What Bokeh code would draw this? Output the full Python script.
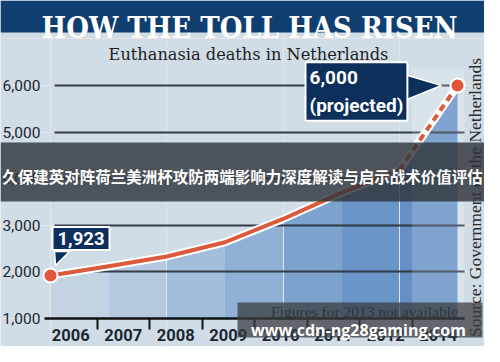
import math
from bokeh.plotting import figure
from bokeh.models import (Range1d, LinearAxis, FixedTicker, NumeralTickFormatter,
                          Label, BoxAnnotation, Grid)
from bokeh.embed import file_html
from bokeh.resources import INLINE

# ---- data ----
years = ["2006", "2007", "2008", "2009", "2010", "2011", "2012", "2014"]
deaths = [1923, 2120, 2331, 2636, 3136, 3695, 4188, 6000]
y_ticks = [1000, 2000, 3000, 4000, 5000, 6000]
title_text = "HOW THE TOLL HAS RISEN"
subtitle_text = "Euthanasia deaths in Netherlands"
projected_text = "(projected)"
source_text = "Source: Government of the Netherlands"
note_text = "Figures for 2013 not available"
banner_text = "久保建英对阵荷兰美洲杯攻防两端影响力深度解读与启示战术价值评估"
watermark_text = "www.cdn-ng28gaming.com"

# ---- layout (pixels, canvas coords from top-left) ----
W, H = 484, 346
PL, PR = 44, 464          # plot area left/right
XA, XB = 50, 457          # first / last point
YB, YT = 318, 85          # pixel rows of first / last y tick
n = len(years) - 1
idx = list(range(len(years)))

ppx = (XB - XA) / n
X0, X1 = -XA / ppx, n + (W - XB) / ppx
nb = len(years)
ppb = (PR - PL) / nb
B0, B1 = -PL / ppb, nb + (W - PR) / ppb
ppy = (YB - YT) / (y_ticks[-1] - y_ticks[0])
Y0 = y_ticks[0] - (H - YB) / ppy
Y1 = y_ticks[-1] + YT / ppy


def xd(px):
    return X0 + px / ppx


def yd(py):
    return Y1 - py / ppy


def off(i, dx, dy):
    return idx[i] + dx / ppx, deaths[i] + dy / ppy


NAVY = "#0f3e71"
BOXNAVY = "#0d2f5c"
BG = "#d1dde6"
RED = "#db5a3c"
DARK = "#1c2531"

p = figure(width=W, height=H, output_backend="svg", toolbar_location=None,
           x_range=Range1d(X0, X1), y_range=Range1d(Y0, Y1),
           min_border=0, x_axis_location=None, y_axis_location=None)
p.background_fill_color = BG
p.border_fill_color = BG
p.outline_line_color = None
p.extra_x_ranges = {"band": Range1d(B0, B1)}

# area fill, darker to the right
seg_colors = ["#c3d3e2", "#b4c9df", "#a3bedb", "#90b0d5", "#7ca3ce", "#6a95c7", "#6590c5"]
for i in range(n):
    p.varea(x=[idx[i], idx[i + 1]], y1=[y_ticks[0]] * 2, y2=[deaths[i], deaths[i + 1]],
            fill_color=seg_colors[i], level="image")

grid = Grid(dimension=1, ticker=FixedTicker(ticks=y_ticks[1:]), cross_bounds=(xd(XA + 4), xd(PR)),
            grid_line_color="#161e29", grid_line_width=2, grid_line_alpha=0.85)
p.add_layout(grid, "center")

# axes drawn at fixed locations inside the frame
xa = LinearAxis(x_range_name="band", fixed_location=y_ticks[0], bounds=(0, nb),
                ticker=FixedTicker(ticks=[i + 0.5 for i in idx],
                                   minor_ticks=list(range(1, nb))),
                major_label_overrides={i + 0.5: y for i, y in enumerate(years)})
xa.axis_line_color = "#111111"
xa.axis_line_width = 2.5
xa.major_tick_line_color = None
xa.major_tick_out = 0
xa.major_tick_in = 0
xa.minor_tick_line_color = "#111111"
xa.minor_tick_line_width = 2
xa.minor_tick_out = 11
xa.minor_tick_in = 0
xa.major_label_text_font = "Roboto"
xa.major_label_text_font_style = "bold"
xa.major_label_text_font_size = "16.5px"
xa.major_label_text_color = DARK
xa.major_label_standoff = -1
p.add_layout(xa, "below")

ya = LinearAxis(fixed_location=xd(PL), ticker=FixedTicker(ticks=y_ticks),
                formatter=NumeralTickFormatter(format="0,0"))
ya.axis_line_color = None
ya.major_tick_line_color = None
ya.minor_tick_line_color = None
ya.major_tick_out = 0
ya.major_tick_in = 0
ya.major_label_standoff = 4
ya.major_label_text_font = "Roboto"
ya.major_label_text_font_size = "15.5px"
ya.major_label_text_color = DARK
p.add_layout(ya, "left")

# projected column
p.quad(left=[n], right=[nb], bottom=[y_ticks[0]], top=[yd(68)],
       x_range_name="band", fill_color="white", fill_alpha=0.18, line_color=None)

# line
p.line(idx[:-1], deaths[:-1], line_color="white", line_width=8, line_join="round", line_cap="round")
p.line(idx[-2:], deaths[-2:], line_color="white", line_width=8, line_cap="round")
p.line(idx[:-1], deaths[:-1], line_color=RED, line_width=4, line_join="round", line_cap="round")
p.line(idx[-2:], deaths[-2:], line_color=RED, line_width=4, line_dash="7 5")
p.scatter([idx[0], idx[-1]], [deaths[0], deaths[-1]], size=14,
          fill_color="#e2573b", line_color="white", line_width=2)

# callout pointers
a = [off(0, 4, 24), off(0, 19, 24), off(0, 5, 10)]
p.patch([q[0] for q in a], [q[1] for q in a], fill_color=BOXNAVY, line_color="white", line_width=1.5)
b = [off(n, -53, 11), off(n, -53, -15), off(n, -16, 0)]
p.patch([q[0] for q in b], [q[1] for q in b], fill_color=BOXNAVY, line_color="white", line_width=1.5)

p.add_layout(Label(x=idx[0], y=deaths[0], text=f"{deaths[0]:,}", x_offset=2, y_offset=37,
                   text_align="left", text_baseline="middle", text_color="white",
                   text_font="Roboto", text_font_style="bold", text_font_size="18.5px",
                   background_fill_color=BOXNAVY, border_line_color="white", border_line_width=2,
                   padding=5))
p.add_layout(Label(x=idx[n], y=deaths[n], text=f"{deaths[n]:,}\n{projected_text}",
                   x_offset=-152, y_offset=-6,
                   text_align="left", text_baseline="middle", text_color="white",
                   text_font="Roboto", text_font_style="bold", text_font_size="19px",
                   text_line_height=1.2,
                   background_fill_color=BOXNAVY, border_line_color="white", border_line_width=2,
                   padding=4))

# header
p.add_layout(BoxAnnotation(left=0, right=W, top=0, bottom=32,
                           left_units="canvas", right_units="canvas",
                           top_units="canvas", bottom_units="canvas",
                           fill_color=NAVY, fill_alpha=1, line_color=None, level="overlay"))
p.add_layout(Label(x=W / 2 + 7, y=27, x_units="canvas", y_units="canvas", text=title_text,
                   text_align="center", text_baseline="alphabetic", text_color="white",
                   text_font="DejaVu Serif Condensed, DejaVu Serif", text_font_style="bold",
                   text_font_size="29px", level="overlay"))
p.add_layout(Label(x=W / 2 + 6, y=54, x_units="canvas", y_units="canvas", text=subtitle_text,
                   text_align="center", text_baseline="alphabetic", text_color="#1e1e1e",
                   text_font="DejaVu Serif", text_font_size="16.2px"))

# source
p.add_layout(Label(x=474, y=197, x_units="canvas", y_units="canvas", text=source_text,
                   angle=math.pi / 2, text_align="center", text_baseline="middle",
                   text_color="#2a2a2a", text_font="Liberation Serif", text_font_size="17.5px"))
# note
p.add_layout(Label(x=364, y=311, x_units="canvas", y_units="canvas", text=note_text,
                   text_align="center", text_baseline="alphabetic",
                   text_color="#1a1a1a", text_font="Liberation Serif", text_font_size="15.5px"))

# middle banner
p.add_layout(BoxAnnotation(left=0, right=W, top=142, bottom=201,
                           left_units="canvas", right_units="canvas",
                           top_units="canvas", bottom_units="canvas",
                           fill_color="#2f353b", fill_alpha=0.82, line_color=None, level="overlay"))
p.add_layout(Label(x=W / 2, y=175, x_units="canvas", y_units="canvas", text=banner_text,
                   text_align="center", text_baseline="middle", text_color="white",
                   text_font="Noto Sans CJK SC", text_font_style="bold",
                   text_font_size="15.5px", level="overlay"))

# watermark
p.add_layout(BoxAnnotation(left=237, right=482, top=302, bottom=337,
                           left_units="canvas", right_units="canvas",
                           top_units="canvas", bottom_units="canvas",
                           fill_color="#3a3d42", fill_alpha=0.75, line_color=None, level="overlay"))
p.add_layout(Label(x=358, y=329, x_units="canvas", y_units="canvas", text=watermark_text,
                   text_align="center", text_baseline="alphabetic", text_color="white",
                   text_font="Open Sans", text_font_style="bold",
                   text_font_size="16px", level="overlay"))

open("out.html", "w").write(file_html(p, INLINE))
